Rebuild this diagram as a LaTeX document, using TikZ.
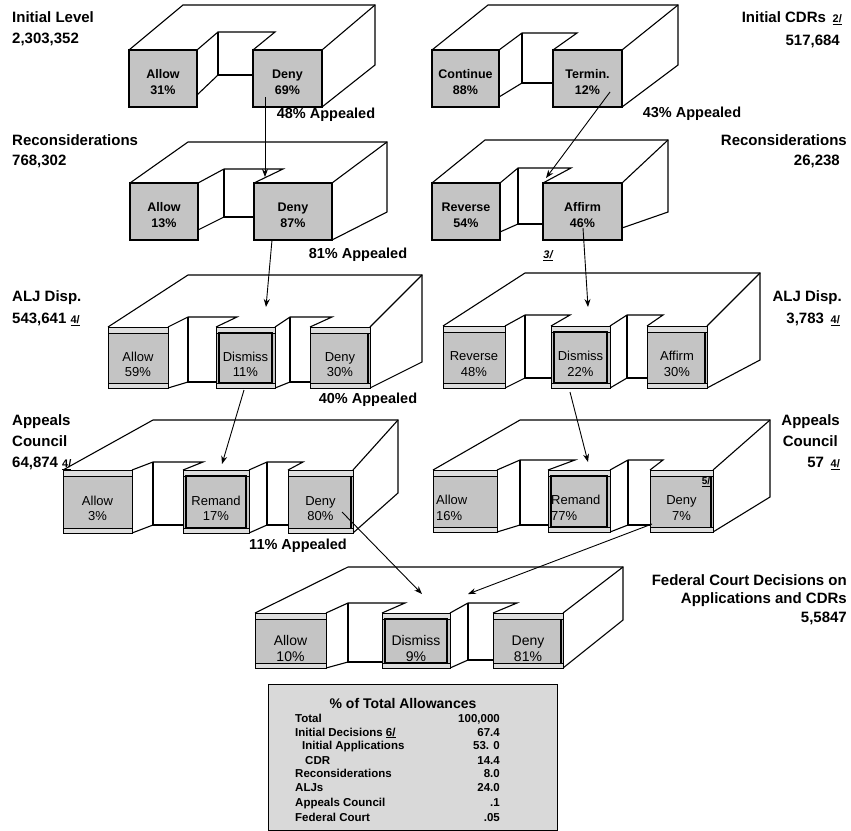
\documentclass[tikz,border=0pt]{standalone}
\usepackage{fontspec}
\setmainfont{Liberation Sans}
\usetikzlibrary{arrows.meta}
\definecolor{boxgray}{gray}{0.77}
\definecolor{bandgray}{gray}{0.87}
\definecolor{tabgray}{gray}{0.85}
\tikzset{
 slab/.style={line width=1.1pt, line join=miter},
 topbox/.style={draw, line width=1.2pt, fill=boxgray, inner sep=0pt, outer sep=0pt},
 lowbox/.style={draw, line width=0.8pt, fill=boxgray, inner sep=0pt, outer sep=0pt},
 toptext/.style={font=\fontsize{12.5}{16}\selectfont\bfseries, align=center, inner sep=0pt},
 lowtext/.style={font=\fontsize{13}{15.5}\selectfont, align=center, inner sep=0pt},
 fedtext/.style={font=\fontsize{14}{16}\selectfont, align=center, inner sep=0pt},
 sidelabel/.style={font=\fontsize{15}{18}\selectfont\bfseries, inner sep=0pt},
 appealtext/.style={font=\fontsize{14.5}{17}\selectfont\bfseries, inner sep=0pt},
 flow/.style={line width=0.9pt, -{Stealth[length=8pt,width=6pt]}},
 tabtext/.style={font=\fontsize{11.5}{13}\selectfont\bfseries, inner sep=0pt},
 band/.style={line width=0.6pt},
 thickin/.style={line width=1.6pt},
}
\newcommand{\mybox}[6]{%
 \pgfmathsetmacro\bw{#5-#3}\pgfmathsetmacro\bh{#6-#4}%
 \pgfmathsetmacro\bcx{(#3+#5)/2}\pgfmathsetmacro\bcy{(#4+#6)/2}%
 \node[#2, minimum width=\bw pt, minimum height=\bh pt] (#1) at (\bcx,\bcy) {};}
\newcommand{\bands}[1]{%
 \fill[bandgray] (#1.north west) rectangle ([yshift=-6pt]#1.north east);
 \fill[bandgray] (#1.south west) rectangle ([yshift=5pt]#1.south east);
 \draw[band] ([yshift=-6pt]#1.north west) -- ([yshift=-6pt]#1.north east);
 \draw[band] ([yshift=5pt]#1.south west) -- ([yshift=5pt]#1.south east);
 \draw[line width=0.8pt] (#1.north west) rectangle (#1.south east);}
\newcommand{\midframe}[1]{%
 \draw[thickin] ([xshift=3pt,yshift=-6pt]#1.north west) rectangle ([xshift=-3pt,yshift=5pt]#1.south east);}
\newcommand{\rightbar}[1]{%
 \draw[thickin] ([xshift=-2pt,yshift=-6pt]#1.north east) -- ([xshift=-2pt,yshift=5pt]#1.south east);}
\newcommand{\fn}[1]{{\fontsize{11}{12}\selectfont\underline{#1}}}
\begin{document}
\begin{tikzpicture}[x=1pt,y=-1pt]
\useasboundingbox (0,0) rectangle (851,830);

% ---------- slabs ----------
% Block 1
\draw[slab] (129,50) -- (183,5) -- (375,5) -- (375,65) -- (322,107);
\draw[slab] (375,5) -- (322,50);
\draw[slab] (197,50) -- (218,32) -- (275,32) -- (253,50);
\draw[slab] (218,32) -- (218,75) -- (253,75);
\draw[slab] (197,95) -- (218,75);
% Block 2
\draw[slab] (432,50) -- (488,5) -- (678,5) -- (678,65) -- (622,107);
\draw[slab] (678,5) -- (622,50);
\draw[slab] (499,50) -- (522,33) -- (577,33) -- (553,50);
\draw[slab] (522,33) -- (522,83) -- (553,83);
\draw[slab] (499,97) -- (522,83);
% Block 3
\draw[slab] (130,183) -- (188,142) -- (387,142) -- (387,212) -- (332,240);
\draw[slab] (387,142) -- (332,183);
\draw[slab] (198,183) -- (224,169) -- (283,169) -- (254,183);
\draw[slab] (224,169) -- (224,217) -- (254,217);
\draw[slab] (198,230) -- (224,217);
% Block 4
\draw[slab] (432,183) -- (485,140) -- (668,140) -- (668,212) -- (622,228);
\draw[slab] (668,140) -- (622,183);
\draw[slab] (500,183) -- (518,168) -- (571,168) -- (543,183);
\draw[slab] (518,168) -- (518,224) -- (543,224);
\draw[slab] (500,232) -- (518,224);
% Block 5
\draw[slab] (108,327) -- (188,275) -- (422,275) -- (422,362) -- (370,388);
\draw[slab] (422,275) -- (370,327);
\draw[slab] (168,327) -- (188,317) -- (237,317) -- (216,327);
\draw[slab] (188,317) -- (188,382) -- (216,382);
\draw[slab] (168,388) -- (188,382);
\draw[slab] (275,327) -- (290,317) -- (332,317) -- (310,327);
\draw[slab] (290,317) -- (290,382) -- (310,382);
\draw[slab] (275,388) -- (290,382);
% Block 6
\draw[slab] (443,326) -- (525,273) -- (760,273) -- (760,360) -- (707,388);
\draw[slab] (760,273) -- (707,326);
\draw[slab] (505,326) -- (525,315) -- (570,315) -- (551,326);
\draw[slab] (525,315) -- (525,378) -- (551,378);
\draw[slab] (505,388) -- (525,378);
\draw[slab] (610,326) -- (627,315) -- (663,315) -- (647,326);
\draw[slab] (627,315) -- (627,378) -- (647,378);
\draw[slab] (610,388) -- (627,378);
% Block 7
\draw[slab] (63,470) -- (153,420) -- (398,420) -- (398,493) -- (353,533);
\draw[slab] (398,420) -- (353,470);
\draw[slab] (132,470) -- (153,462) -- (203,462) -- (183,470);
\draw[slab] (153,462) -- (153,525) -- (183,525);
\draw[slab] (132,533) -- (153,525);
\draw[slab] (249,470) -- (267,462) -- (303,462) -- (288,470);
\draw[slab] (267,462) -- (267,525) -- (288,525);
\draw[slab] (249,533) -- (267,525);
% Block 8
\draw[slab] (433,470) -- (520,420) -- (770,420) -- (770,497) -- (713,532);
\draw[slab] (770,420) -- (713,470);
\draw[slab] (497,470) -- (520,460) -- (575,460) -- (548,470);
\draw[slab] (520,460) -- (520,525) -- (548,525);
\draw[slab] (497,532) -- (520,525);
\draw[slab] (610,470) -- (628,460) -- (663,460) -- (650,470);
\draw[slab] (628,460) -- (628,525) -- (650,525);
\draw[slab] (610,532) -- (628,525);
% Block 9
\draw[slab] (255,613) -- (348,567) -- (623,567) -- (623,620) -- (563,668);
\draw[slab] (623,567) -- (563,613);
\draw[slab] (326,613) -- (348,603) -- (405,603) -- (382,613);
\draw[slab] (348,603) -- (348,662) -- (382,662);
\draw[slab] (326,668) -- (348,662);
\draw[slab] (450,613) -- (468,603) -- (517,603) -- (493,613);
\draw[slab] (468,603) -- (468,660) -- (493,660);
\draw[slab] (450,668) -- (468,660);

% ---------- boxes ----------
\mybox{a1}{topbox}{129}{50}{197}{107}
\mybox{d1}{topbox}{253}{50}{322}{107}
\mybox{c2}{topbox}{432}{50}{499}{107}
\mybox{t2}{topbox}{553}{50}{622}{107}
\mybox{a3}{topbox}{130}{183}{198}{240}
\mybox{d3}{topbox}{254}{183}{332}{240}
\mybox{r4}{topbox}{432}{183}{500}{240}
\mybox{f4}{topbox}{543}{183}{622}{240}

\mybox{a5}{lowbox}{108}{327}{168}{388}
\mybox{m5}{lowbox}{216}{327}{275}{388}
\mybox{d5}{lowbox}{310}{327}{370}{388}
\mybox{r6}{lowbox}{443}{326}{505}{388}
\mybox{m6}{lowbox}{551}{326}{610}{388}
\mybox{f6}{lowbox}{647}{326}{707}{388}
\mybox{a7}{lowbox}{63}{470}{132}{533}
\mybox{m7}{lowbox}{183}{470}{249}{533}
\mybox{d7}{lowbox}{288}{470}{353}{533}
\mybox{a8}{lowbox}{433}{470}{497}{532}
\mybox{m8}{lowbox}{548}{470}{610}{532}
\mybox{d8}{lowbox}{650}{470}{713}{532}
\mybox{a9}{lowbox}{255}{613}{326}{668}
\mybox{m9}{lowbox}{382}{613}{450}{668}
\mybox{d9}{lowbox}{493}{613}{563}{668}

\foreach \b in {a5,m5,d5,r6,m6,f6,a7,m7,d7,a8,m8,d8,a9,m9,d9} {\bands{\b}}
\foreach \b in {m5,m6,m7,m8,m9} {\midframe{\b}}
\foreach \b in {d5,f6,d7,d8,d9} {\rightbar{\b}}

% ---------- box texts ----------
\node[toptext] (a1t) at ([yshift=-4pt]a1.center) {Allow\\31\%};
\node[toptext] (d1t) at ([yshift=-4pt]d1.center) {Deny\\69\%};
\node[toptext] (c2t) at ([yshift=-4pt]c2.center) {Continue\\88\%};
\node[toptext] (t2t) at ([yshift=-4pt]t2.center) {Termin.\\12\%};
\node[toptext] (a3t) at ([yshift=-4pt]a3.center) {Allow\\13\%};
\node[toptext] (d3t) at ([yshift=-4pt]d3.center) {Deny\\87\%};
\node[toptext] (r4t) at ([yshift=-4pt]r4.center) {Reverse\\54\%};
\node[toptext] (f4t) at ([yshift=-4pt]f4.center) {Affirm\\46\%};

\node[lowtext] (a5t) at ([yshift=-7pt]a5.center) {Allow\\59\%};
\node[lowtext] (m5t) at ([yshift=-7pt]m5.center) {Dismiss\\11\%};
\node[lowtext] (d5t) at ([yshift=-7pt]d5.center) {Deny\\30\%};
\node[lowtext] (r6t) at ([yshift=-7pt]r6.center) {Reverse\\48\%};
\node[lowtext] (m6t) at ([yshift=-7pt]m6.center) {Dismiss\\22\%};
\node[lowtext] (f6t) at ([yshift=-7pt]f6.center) {Affirm\\30\%};
\node[lowtext] (a7t) at ([yshift=-7pt]a7.center) {Allow\\3\%};
\node[lowtext] (m7t) at ([yshift=-7pt]m7.center) {Remand\\17\%};
\node[lowtext] (d7t) at ([yshift=-7pt]d7.center) {Deny\\80\%};
\node[lowtext, align=left, anchor=west] (a8t) at ([xshift=3pt,yshift=-7pt]a8.west) {Allow\\16\%};
\node[lowtext, align=left, anchor=west] (m8t) at ([xshift=3pt,yshift=-7pt]m8.west) {Remand\\77\%};
\node[lowtext] (d8t) at ([yshift=-7pt]d8.center) {Deny\\7\%};
\node[inner sep=0pt, font=\fontsize{10}{11}\selectfont\bfseries] (d8n) at (706,482) {\underline{5/}};
\node[fedtext] (a9t) at ([yshift=-8pt]a9.center) {Allow\\10\%};
\node[fedtext] (m9t) at ([yshift=-8pt]m9.center) {Dismiss\\9\%};
\node[fedtext] (d9t) at ([yshift=-8pt]d9.center) {Deny\\81\%};

% ---------- connectors ----------
\coordinate (s1) at (265,97);  \coordinate (e1) at (265,177);
\coordinate (s2) at (610,92);  \coordinate (e2) at (546,178);
\coordinate (s3) at (272,240); \coordinate (e3) at (266,307);
\coordinate (s4) at (583,228); \coordinate (e4) at (588,307);
\coordinate (s5) at (244,390); \coordinate (e5) at (222,464);
\coordinate (s6) at (570,392); \coordinate (e6) at (588,462);
\coordinate (s7) at (342,512); \coordinate (e7) at (422,594);
\coordinate (s8) at (652,524); \coordinate (e8) at (468,594);
\foreach \i in {1,...,8} {\draw[flow] (s\i) -- (e\i);}

% ---------- appealed texts ----------
\node[appealtext] (ap1) at (326,115) {48\% Appealed};
\node[appealtext] (ap2) at (692,114) {43\% Appealed};
\node[appealtext] (ap3) at (358,255) {81\% Appealed};
\node[appealtext] (ap4) at (368,400) {40\% Appealed};
\node[appealtext] (ap5) at (298,546) {11\% Appealed};
\node[inner sep=0pt, font=\fontsize{11}{12}\selectfont\bfseries\itshape] (fn3) at (548,256) {\underline{3/}};

% ---------- side labels (baselines) ----------
\node[sidelabel, anchor=base west] (l1a) at (12,22.5) {Initial Level};
\node[sidelabel, anchor=base west] (l1b) at (12,43.5) {2,303,352};
\node[sidelabel, anchor=base west] (l2a) at (12,145.5) {Reconsiderations};
\node[sidelabel, anchor=base west] (l2b) at (12,165.5) {768,302};
\node[sidelabel, anchor=base west] (l3a) at (12,301.5) {ALJ Disp.};
\node[sidelabel, anchor=base west] (l3b) at (12,323.5) {543,641 \fn{4/}};
\node[sidelabel, anchor=base west] (l4a) at (12,425.5) {Appeals};
\node[sidelabel, anchor=base west] (l4b) at (12,446) {Council};
\node[sidelabel, anchor=base west] (l4c) at (12,467.5) {64,874 \fn{4/}};

\node[sidelabel, anchor=base east] (r1a) at (842,22.5) {Initial CDRs \,\fn{2/}};
\node[sidelabel, anchor=base east] (r1b) at (840,45.5) {517,684};
\node[sidelabel, anchor=base east] (r2a) at (847,145.5) {Reconsiderations};
\node[sidelabel, anchor=base east] (r2b) at (840,165.5) {26,238};
\node[sidelabel, anchor=base east] (r3a) at (842,301.5) {ALJ Disp.};
\node[sidelabel, anchor=base east] (r3b) at (840,323.5) {3,783 \,\fn{4/}};
\node[sidelabel, anchor=base east] (r4a) at (840,425.5) {Appeals};
\node[sidelabel, anchor=base east] (r4b) at (838,446) {Council};
\node[sidelabel, anchor=base east] (r4c) at (840,467.5) {57 \,\fn{4/}};
\node[sidelabel, anchor=base east] (r5a) at (847,585.5) {Federal Court Decisions on};
\node[sidelabel, anchor=base east] (r5b) at (847,603.5) {Applications and CDRs};
\node[sidelabel, anchor=base east] (r5c) at (847,622.5) {5,5847};

% ---------- table ----------
\node[draw, fill=tabgray, line width=0.8pt, inner sep=0pt, outer sep=0pt,
      minimum width=289pt, minimum height=146pt] (tab) at (412.5,757) {};
\node[tabtext, font=\fontsize{14}{15}\selectfont\bfseries, anchor=base] (tabh) at (403,708) {\% of Total Allowances};
\node[tabtext, anchor=base west] (k1) at (295,722) {Total};
\node[tabtext, anchor=base east] (v1) at (500,722) {100,000};
\node[tabtext, anchor=base west] (k2) at (295,736) {Initial Decisions \underline{6/}};
\node[tabtext, anchor=base east] (v2) at (500,736) {67.4};
\node[tabtext, anchor=base west] (k3) at (302,749.5) {Initial Applications};
\node[tabtext, anchor=base east] (v3) at (500,749.5) {53. 0};
\node[tabtext, anchor=base west] (k4) at (305,764) {CDR};
\node[tabtext, anchor=base east] (v4) at (500,764) {14.4};
\node[tabtext, anchor=base west] (k5) at (295,777.5) {Reconsiderations};
\node[tabtext, anchor=base east] (v5) at (500,777.5) {8.0};
\node[tabtext, anchor=base west] (k6) at (295,791.5) {ALJs};
\node[tabtext, anchor=base east] (v6) at (500,791.5) {24.0};
\node[tabtext, anchor=base west] (k7) at (295,806) {Appeals Council};
\node[tabtext, anchor=base east] (v7) at (500,806) {.1};
\node[tabtext, anchor=base west] (k8) at (295,821) {Federal Court};
\node[tabtext, anchor=base east] (v8) at (500,821) {.05};
\end{tikzpicture}
\end{document}
